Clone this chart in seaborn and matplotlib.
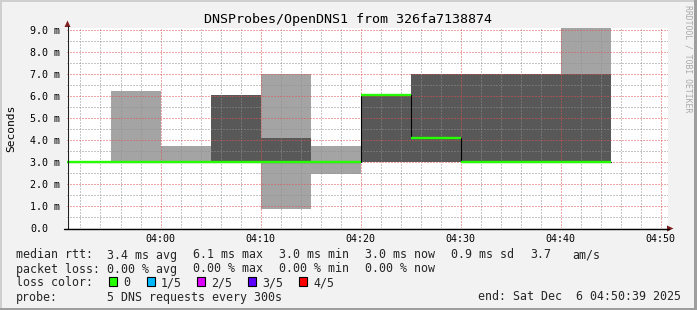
import numpy as np
import pandas as pd
import matplotlib
matplotlib.use("Agg")
import matplotlib.pyplot as plt
from matplotlib.patches import Rectangle, Polygon
import seaborn as sns

# ---------------- data ----------------
# start of each 5-minute step, minutes relative to 04:00
step_start = [-10, -5, 0, 5, 10, 15, 20, 25, 30, 35, 40]
step_end = 45
# sorted ping round trip times per step (ms)
ping1 = [3.0, 3.0, 3.0, 3.0, 0.85, 2.45, 3.0, 3.0, 3.0, 3.0, 3.0]
ping2 = [3.0, 3.0, 3.0, 3.0, 3.0, 3.0, 3.0, 3.0, 3.0, 3.0, 3.0]
median = [3.0, 3.0, 3.0, 3.0, 3.0, 3.0, 6.05, 4.1, 3.0, 3.0, 3.0]
ping4 = [3.0, 3.0, 3.0, 6.05, 4.1, 3.0, 6.05, 7.0, 7.0, 7.0, 7.0]
ping5 = [3.0, 6.25, 3.75, 6.05, 7.0, 3.75, 6.05, 7.0, 7.0, 7.0, 9.1]

x_ticks = [0, 10, 20, 30, 40, 50]
x_tick_labels = ["04:00", "04:10", "04:20", "04:30", "04:40", "04:50"]
y_ticks = [0, 1, 2, 3, 4, 5, 6, 7, 8, 9]
y_tick_labels = ["0.0", "1.0 m", "2.0 m", "3.0 m", "4.0 m", "5.0 m",
                 "6.0 m", "7.0 m", "8.0 m", "9.0 m"]

title = "DNSProbes/OpenDNS1 from 326fa7138874"
ylabel = "Seconds"
loss_labels = ["0", "1/5", "2/5", "3/5", "4/5"]
loss_colors = ["#26ff00", "#00b8ff", "#dd00ff", "#5e00ff", "#ff0000"]

# ---------------- style ----------------
sns.set_theme(style="white")
plt.rcParams["font.family"] = ["DejaVu Sans Mono", "DejaVu Sans"]
plt.rcParams["lines.scale_dashes"] = False

W, H = 697, 310
BACK = "#f2f2f2"
SHADEA = "#cfcfcf"
SHADEB = "#9e9e9e"
GRID = (0.56, 0.56, 0.56, 0.45)
MGRID = (0.87, 0.31, 0.31, 0.42)
ARROW = (0.5, 0.12, 0.12)
AXIS = (0.12, 0.12, 0.12)
LIGHT = "#a4a4a4"
DARK = "#585858"

fig = plt.figure(figsize=(W / 100, H / 100), dpi=100, facecolor=BACK)
ax = fig.add_axes([67 / W, (H - 228) / H, 601 / W, 200 / H])
ax.set_facecolor("white")

# step data (append final edge)
xs = np.array(step_start + [step_end], dtype=float)
def ext(a):
    return np.array(a + [a[-1]], dtype=float)

p1, p2, p3, p4, p5 = ext(ping1), ext(ping2), ext(median), ext(ping4), ext(ping5)

# smoke
ax.fill_between(xs, p1, p2, step="post", color=LIGHT, lw=0, zorder=1)
ax.fill_between(xs, p4, p5, step="post", color=LIGHT, lw=0, zorder=1)
ax.fill_between(xs, p2, p4, step="post", color=DARK, lw=0, zorder=1)

# median: black step transitions, green horizontal segments
df = pd.DataFrame({"t": xs, "rtt": p3})
sns.lineplot(data=df, x="t", y="rtt", drawstyle="steps-post", color="black",
             lw=0.8, ax=ax, zorder=3)
ax.hlines(median, step_start, step_start[1:] + [step_end], color=loss_colors[0],
          lw=1.7, zorder=4)

ax.set_xlim(-9.35, 50.75)
ax.set_ylim(0, 200 / 22)

ax.set_xticks(x_ticks)
ax.set_xticklabels(x_tick_labels)
ax.set_xticks(np.arange(-8, 51, 2), minor=True)
ax.set_yticks(y_ticks)
ax.set_yticklabels(y_tick_labels)
ax.set_yticks(np.arange(0.5, 9.1, 1.0), minor=True)

ax.set_axisbelow(False)
dots = (0, (0.72, 1.44))
ax.grid(which="minor", color=GRID, lw=0.72, linestyle=dots, zorder=2)
ax.grid(which="major", color=MGRID, lw=0.72, linestyle=dots, zorder=2)

ax.tick_params(axis="x", which="major", length=0, pad=4.3, labelsize=7.2,
               labelcolor="black")
ax.tick_params(axis="x", which="minor", length=0)
ax.tick_params(axis="y", which="major", length=2.2, width=0.72, color=MGRID,
               direction="out", pad=24.5, labelsize=7.2, labelcolor="black")
ax.tick_params(axis="y", which="minor", length=0)
for t in ax.get_yticklabels():
    t.set_horizontalalignment("left")
ax.set_xlabel("")
ax.set_ylabel("")
for s in ax.spines.values():
    s.set_visible(False)

# ---------------- overlay in pixel coordinates ----------------
ov = fig.add_axes([0, 0, 1, 1], zorder=5)
ov.set_xlim(0, W)
ov.set_ylim(H, 0)
ov.axis("off")
ov.patch.set_alpha(0)

# frame
ov.add_patch(Rectangle((0, 0), W, 2, color=SHADEA, lw=0))
ov.add_patch(Rectangle((0, 0), 2, H, color=SHADEA, lw=0))
ov.add_patch(Rectangle((W - 3, 0), 3, H, color=SHADEB, lw=0))
ov.add_patch(Rectangle((0, H - 2.5), W, 2.5, color=SHADEB, lw=0))

# axis lines and arrows
ov.plot([67.5, 67.5], [228.5, 26], color=AXIS, lw=0.8)
ov.plot([64, 669], [228.5, 228.5], color="black", lw=1.0)
ov.add_patch(Polygon([(64.5, 27), (70.5, 27), (67.5, 20.5)], closed=True,
                     color=ARROW, lw=0))
ov.add_patch(Polygon([(667, 225.5), (667, 231.5), (673.5, 228.5)], closed=True,
                     color=ARROW, lw=0))

# title, y label, watermark
ov.text(348, 23.5, title, ha="center", va="baseline", fontsize=9.6, color="black")
ov.text(10.8, 128, ylabel, ha="center", va="center", rotation=90, fontsize=8.1,
        color="black")
ov.text(688, 5, "RRDTOOL / TOBI OETIKER", ha="center", va="top", rotation=-90,
        fontsize=5.9, color="#aaaaaa")

# legend
FS = 8.4
rows = [258.5, 272.5, 286.5, 300.5]
ov.text(16, rows[0], "median rtt:", ha="left", va="baseline", fontsize=FS)
for xx, s in zip([107, 193, 279, 365, 451, 530, 572],
                 ["3.4 ms avg", "6.1 ms max", "3.0 ms min", "3.0 ms now",
                  "0.9 ms sd", "3.7", "am/s"]):
    ov.text(xx, rows[0], s, ha="left", va="baseline", fontsize=FS)
ov.text(16, rows[1], "packet loss:", ha="left", va="baseline", fontsize=FS)
for xx, s in zip([107, 193, 279, 365],
                 ["0.00 % avg", "0.00 % max", "0.00 % min", "0.00 % now"]):
    ov.text(xx, rows[1], s, ha="left", va="baseline", fontsize=FS)
ov.text(16, rows[2], "loss color:", ha="left", va="baseline", fontsize=FS)
for bx, lab, col in zip([108, 146, 196, 247, 298], loss_labels, loss_colors):
    ov.add_patch(Rectangle((bx + 0.5, 277), 8.5, 9, facecolor=col,
                           edgecolor="black", lw=0.8))
    ov.text(bx + 15, rows[2], lab, ha="left", va="baseline", fontsize=FS)
ov.text(16, rows[3], "probe:", ha="left", va="baseline", fontsize=FS)
ov.text(107, rows[3], "5 DNS requests every 300s", ha="left", va="baseline",
        fontsize=FS)
ov.text(681, rows[3], "end: Sat Dec  6 04:50:39 2025", ha="right",
        va="baseline", fontsize=FS)

fig.savefig("out.png", dpi=100, facecolor=BACK)
